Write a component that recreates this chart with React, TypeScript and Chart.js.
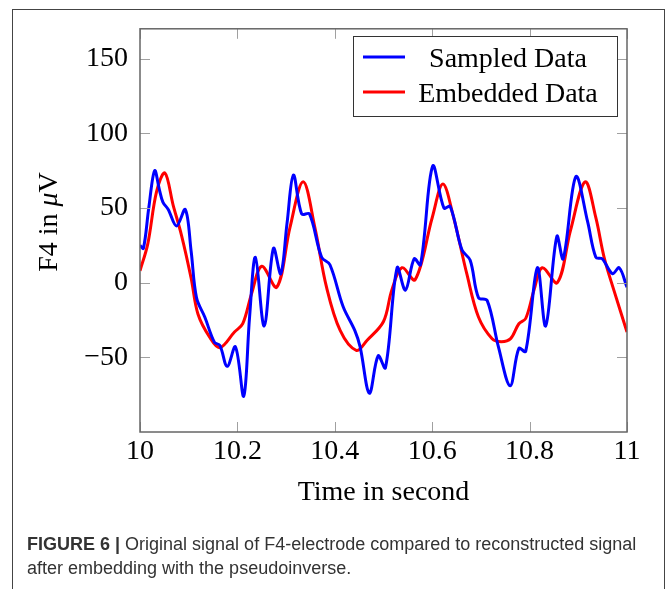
import React, { useEffect, useRef } from "react";
import { Chart, registerables } from "chart.js";

Chart.register(...registerables);

const SAMPLED_T = [10.0, 10.007, 10.018, 10.03, 10.04, 10.047, 10.058, 10.075, 10.093, 10.105, 10.116, 10.133, 10.153, 10.164, 10.179, 10.196, 10.213, 10.225, 10.237, 10.255, 10.274, 10.289, 10.302, 10.315, 10.332, 10.348, 10.373, 10.39, 10.417, 10.441, 10.452, 10.471, 10.489, 10.504, 10.528, 10.545, 10.563, 10.576, 10.601, 10.624, 10.637, 10.661, 10.678, 10.695, 10.713, 10.736, 10.76, 10.778, 10.792, 10.816, 10.833, 10.856, 10.869, 10.895, 10.919, 10.936, 10.949, 10.97, 10.984, 11.0];
const SAMPLED_V = [25, 23, 50, 75, 62, 54, 49, 38, 49, 21, -10, -23, -40, -42, -56, -43, -76, -23, 17, -29, 23, 6, 40, 72, 46, 46, 17, 12, -16, -32, -43, -74, -49, -57, 10, -5, 16, 12, 78, 50, 51, 22, 15, -10, -12, -43, -69, -44, -46, 10, -29, 31, 16, 71, 41, 17, 16, 6, 10, -3];

const EMBEDDED_T = [10.0, 10.016, 10.034, 10.051, 10.068, 10.085, 10.105, 10.119, 10.143, 10.164, 10.194, 10.211, 10.229, 10.25, 10.281, 10.308, 10.335, 10.359, 10.383, 10.411, 10.444, 10.466, 10.5, 10.517, 10.538, 10.565, 10.6, 10.622, 10.644, 10.671, 10.695, 10.723, 10.742, 10.761, 10.778, 10.792, 10.809, 10.826, 10.857, 10.884, 10.914, 10.936, 10.953, 10.973, 11.0];
const EMBEDDED_V = [8, 26, 61, 73.5, 52, 32, 3, -21, -36.5, -43.5, -33, -27.5, -7.5, 11, -3, 37, 67.5, 37, -3, -32, -45.3, -38.7, -26, -5, 10, 2, 43.5, 66, 43.5, 6, -23, -37.5, -39.5, -37.5, -27.5, -24, -5, 10, 0, 35, 67.5, 43.5, 17, -5, -33];

const SERIES_LABELS = ["Sampled Data", "Embedded Data"];
const SERIES_COLORS = ["#0000ff", "#ff0000"];
const X_TICKS = [10, 10.2, 10.4, 10.6, 10.8, 11];
const X_TICK_LABELS = ["10", "10.2", "10.4", "10.6", "10.8", "11"];
const Y_TICKS = [-50, 0, 50, 100, 150];
const X_TITLE = "Time in second";
const CAPTION_BOLD = "FIGURE 6 |";
const CAPTION_1 = " Original signal of F4-electrode compared to reconstructed signal";
const CAPTION_2 = "after embedding with the pseudoinverse.";

const SERIF = '"Liberation Serif", "DejaVu Serif", serif';

const boxPlugin = {
  id: "pgfbox",
  afterDatasetsDraw(chart: any) {
    const { ctx, chartArea: a, scales } = chart;
    const xs = scales.x;
    const ys = scales.y;
    ctx.save();
    // inward ticks
    ctx.strokeStyle = "#a0a0a0";
    ctx.lineWidth = 1;
    const tl = 10;
    ctx.beginPath();
    X_TICKS.forEach((v) => {
      const px = Math.round(xs.getPixelForValue(v)) + 0.5;
      ctx.moveTo(px, a.bottom);
      ctx.lineTo(px, a.bottom - tl);
      ctx.moveTo(px, a.top);
      ctx.lineTo(px, a.top + tl);
    });
    Y_TICKS.forEach((v) => {
      const py = Math.round(ys.getPixelForValue(v)) + 0.5;
      ctx.moveTo(a.left, py);
      ctx.lineTo(a.left + tl, py);
      ctx.moveTo(a.right, py);
      ctx.lineTo(a.right - tl, py);
    });
    ctx.stroke();
    // frame
    ctx.strokeStyle = "#666666";
    ctx.lineWidth = 1.5;
    ctx.strokeRect(a.left, a.top, a.right - a.left, a.bottom - a.top);

    // legend
    const lx = 353, ly = 36, lw = 264, lh = 80;
    ctx.fillStyle = "#ffffff";
    ctx.fillRect(lx, ly, lw, lh);
    ctx.strokeStyle = "#333333";
    ctx.lineWidth = 1;
    ctx.strokeRect(lx + 0.5, ly + 0.5, lw, lh);
    const rows = [57, 92];
    chart.data.datasets.forEach((ds: any, i: number) => {
      ctx.strokeStyle = ds.borderColor;
      ctx.lineWidth = 3;
      ctx.beginPath();
      ctx.moveTo(363, rows[i]);
      ctx.lineTo(405, rows[i]);
      ctx.stroke();
      ctx.fillStyle = "#000";
      ctx.font = `28px ${SERIF}`;
      ctx.textAlign = "center";
      ctx.textBaseline = "alphabetic";
      ctx.fillText(ds.label, 508, rows[i] + 9.5);
    });

    // x title
    ctx.fillStyle = "#000";
    ctx.font = `28px ${SERIF}`;
    ctx.textAlign = "center";
    ctx.textBaseline = "alphabetic";
    ctx.fillText(X_TITLE, (a.left + a.right) / 2, 500);

    // y title with italic mu
    const parts = [
      { t: "F4 in ", f: `28px ${SERIF}` },
      { t: "\u03bc", f: `italic 28px ${SERIF}` },
      { t: "V", f: `28px ${SERIF}` },
    ];
    let total = 0;
    parts.forEach((p) => {
      ctx.font = p.f;
      total += ctx.measureText(p.t).width;
    });
    ctx.translate(57, 222);
    ctx.rotate(-Math.PI / 2);
    ctx.textAlign = "left";
    let cx = -total / 2;
    parts.forEach((p) => {
      ctx.font = p.f;
      ctx.fillText(p.t, cx, 0);
      cx += ctx.measureText(p.t).width;
    });
    ctx.restore();
  },
};

export default function App() {
  const ref = useRef<HTMLCanvasElement | null>(null);
  useEffect(() => {
    if (!ref.current) return;
    const chart = new Chart(ref.current, {
      type: "line",
      data: {
        datasets: [
          {
            label: SERIES_LABELS[0],
            data: SAMPLED_T.map((t, i) => ({ x: t, y: SAMPLED_V[i] })),
            borderColor: SERIES_COLORS[0],
            backgroundColor: SERIES_COLORS[0],
            borderWidth: 3,
            pointRadius: 0,
            tension: 0.35,
            fill: false,
          },
          {
            label: SERIES_LABELS[1],
            data: EMBEDDED_T.map((t, i) => ({ x: t, y: EMBEDDED_V[i] })),
            borderColor: SERIES_COLORS[1],
            backgroundColor: SERIES_COLORS[1],
            borderWidth: 3,
            pointRadius: 0,
            tension: 0.35,
            fill: false,
          },
        ],
      },
      options: {
        animation: false,
        responsive: false,
        maintainAspectRatio: false,
        layout: { padding: { left: 0, top: 27, right: 41, bottom: 0 } },
        plugins: { legend: { display: false }, tooltip: { enabled: false } },
        scales: {
          x: {
            type: "linear",
            min: 10,
            max: 11,
            grid: { display: false, drawTicks: false },
            border: { display: false },
            afterBuildTicks: (s: any) => {
              s.ticks = X_TICKS.map((v) => ({ value: v }));
            },
            afterFit: (s: any) => {
              s.height = 157;
            },
            ticks: {
              padding: 3,
              color: "#000",
              font: { family: SERIF, size: 28 },
              maxRotation: 0,
              autoSkip: false,
              callback: (v: any) => {
                const i = X_TICKS.findIndex((t) => Math.abs(t - Number(v)) < 1e-6);
                return i >= 0 ? X_TICK_LABELS[i] : "";
              },
            },
          },
          y: {
            type: "linear",
            min: -100,
            max: 170,
            grid: { display: false, drawTicks: false },
            border: { display: false },
            afterBuildTicks: (s: any) => {
              s.ticks = Y_TICKS.map((v) => ({ value: v }));
            },
            afterFit: (s: any) => {
              s.width = 140;
            },
            ticks: {
              padding: 12,
              color: "#000",
              font: { family: SERIF, size: 28 },
              autoSkip: false,
              callback: (v: any) => (Number(v) < 0 ? "\u2212" + Math.abs(Number(v)) : String(v)),
            },
          },
        },
      },
      plugins: [boxPlugin],
    } as any);
    return () => chart.destroy();
  }, []);

  const capFont = '"Liberation Sans", Arial, sans-serif';
  return (
    <div style={{ position: "fixed", left: 0, top: 0, width: 668, height: 589, background: "#fff", overflow: "hidden" }}>
      <div
        style={{
          position: "absolute",
          left: 12,
          top: 9,
          width: 651,
          height: 620,
          borderLeft: "1px solid #444",
          borderTop: "1px solid #444",
          borderRight: "1px solid #444",
        }}
      />
      <canvas ref={ref} width={668} height={589} style={{ position: "absolute", left: 0, top: 0, width: 668, height: 589 }} />
      <div
        style={{
          position: "absolute",
          left: 27,
          top: 532,
          fontFamily: capFont,
          fontSize: 18,
          lineHeight: "24px",
          color: "#333",
          whiteSpace: "nowrap",
        }}
      >
        <div>
          <b>{CAPTION_BOLD}</b>
          {CAPTION_1}
        </div>
        <div>{CAPTION_2}</div>
      </div>
    </div>
  );
}
